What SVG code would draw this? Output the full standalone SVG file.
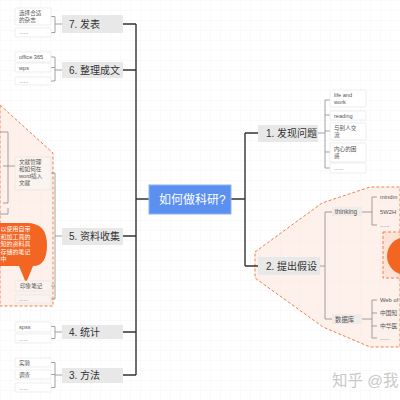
<svg xmlns="http://www.w3.org/2000/svg" width="400" height="400" viewBox="0 0 400 400">
<defs>
<pattern id="grid" width="10" height="10" patternUnits="userSpaceOnUse">
<path d="M10 0H0V10" fill="none" stroke="#ececec" stroke-width="0.6"/>
</pattern>
<style>
text{font-family:"Liberation Sans","Noto Sans CJK SC",sans-serif;}
.l1 rect{fill:#e8e8e8;}
.l1 text{font-size:10px;fill:#333;}
.c rect{fill:#fff;stroke:#e2e2e2;stroke-width:0.6;}
.c text{font-size:5.6px;fill:#555;}
.lb rect{fill:#f1ebe8;}
.lb text{font-size:6.4px;fill:#555;}
.rc text{font-size:5.8px;fill:#555;}
.trunk{stroke:#333;stroke-width:1.4;fill:none;}
.br{stroke:#8a8a8a;stroke-width:0.8;fill:none;}
.region{fill:#fde6dc;fill-opacity:0.6;stroke:#ee8050;stroke-width:1;stroke-dasharray:3 2;}
.bub text{font-size:6px;fill:#fff;}
</style>
</defs>
<rect width="400" height="400" fill="#fff"/>
<rect width="400" height="400" fill="url(#grid)"/>

<g id="regions">
<polygon class="region" points="0,105 53,153 53,306 0,306"/>
<polygon class="region" points="255,252 322,203 370,187 400,187 400,347 370,347 323,327 255,278"/>
<rect class="region" x="383" y="232" width="20" height="46" style="fill:#fcd9c8"/>
<circle cx="406" cy="256" r="19" fill="#f26522"/>
</g>

<g id="connectors">
<path class="trunk" d="M136 24V375M123 24H136M123 70H136M123 236H136M123 332H136M123 375H136M136 199H149"/>
<path class="trunk" d="M231 199H245M245 133V266M245 133H258M245 266H258"/>
<path class="br" d="M51 16.5H55M51 32.5H55M55 16.5V32.5M55 24H62"/>
<path class="br" d="M51 57H55M51 67.5H55M51 81H55M55 57V81M55 70H62"/>
<path class="br" d="M51 173H55M51 286H55M51 299H55M55 173V299M55 236H62"/>
<path class="br" d="M8 132V203M0 132H8M3 166H15M3 203H8M8 208V214M0 214H8"/>
<path class="br" d="M51 326.5H55M51 338.5H55M55 326.5V338.5M55 332H62"/>
<path class="br" d="M51 362.5H55M51 374.5H55M51 387.5H55M55 362.5V387.5M55 375H62"/>
<path class="br" d="M318 133H325M325 100V168M325 100H330M325 115H330M325 131H330M325 152H330M325 168H330"/>
<path class="br" d="M320 266H325M325 212V319M325 212H332M325 319H332"/>
<path class="br" d="M362 212H372M372 197V225M372 197H377M372 225H377"/>
<path class="br" d="M362 319H372M372 300V338M372 300H377M372 313H377M372 326H377M372 338H377"/>
</g>

<g id="center">
<rect x="149" y="185" width="82" height="29" fill="#5b8ff0" stroke="#8fb3f7" stroke-width="1"/>
<text x="159" y="203.5" font-size="12" fill="#fff">如何做科研?</text>
</g>

<g id="n7" class="l1"><rect x="62" y="15" width="61" height="18"/><text x="69" y="28">7. 发表</text></g>
<g id="n6" class="l1"><rect x="62" y="62" width="61" height="16"/><text x="69" y="74">6. 整理成文</text></g>
<g id="n5" class="l1"><rect x="62" y="228" width="61" height="17"/><text x="69" y="240">5. 资料收集</text></g>
<g id="n4" class="l1"><rect x="62" y="325" width="61" height="14"/><text x="69" y="336">4. 统计</text></g>
<g id="n3" class="l1"><rect x="62" y="368" width="61" height="15"/><text x="69" y="379">3. 方法</text></g>
<g id="n1" class="l1"><rect x="258" y="125" width="60" height="17"/><text x="266" y="137">1. 发现问题</text></g>
<g id="n2" class="l1"><rect x="258" y="257" width="62" height="18"/><text x="266" y="270">2. 提出假设</text></g>

<g id="c7a" class="c"><rect x="15" y="8" width="36" height="17" rx="1"/><text x="19" y="15">选择合适</text><text x="19" y="22">的杂志</text></g>
<g id="c7b" class="c"><rect x="15" y="28" width="36" height="9" rx="1"/><text x="19" y="34">......</text></g>
<g id="c6a" class="c"><rect x="15" y="52" width="36" height="10" rx="1"/><text x="19" y="59">office 365</text></g>
<g id="c6b" class="c"><rect x="15" y="63" width="36" height="9" rx="1"/><text x="19" y="69.5">wps</text></g>
<g id="c6c" class="c"><rect x="15" y="77" width="36" height="8" rx="1"/><text x="19" y="83">......</text></g>
<g id="c5a" class="c"><rect x="15" y="157" width="36" height="33" rx="1" style="fill:#fbf3ef"/><text x="19" y="164">文献管理</text><text x="19" y="171">和如何在</text><text x="19" y="178">word插入</text><text x="19" y="185">文献</text></g>
<g id="bubble" class="bub">
<path d="M10 223H27Q47 223 47 245Q47 266 33 266L26 283L19 266H0V223Z" fill="#f26522"/>
<text x="0.5" y="231">以使用自带</text><text x="0.5" y="238.5">和加工真的</text><text x="0.5" y="246">知的资料具</text><text x="0.5" y="253.5">存储的笔记</text><text x="0.5" y="261">中</text>
</g>
<g id="c5b" class="c"><rect x="15" y="281" width="36" height="10" rx="1" style="fill:#fbf3ef"/><text x="20" y="288">印象笔记</text></g>
<g id="c5c" class="c"><rect x="15" y="295" width="36" height="8" rx="1" style="fill:#fbf3ef"/><text x="19" y="301">......</text></g>
<g id="c4a" class="c"><rect x="15" y="322" width="36" height="10" rx="1"/><text x="19" y="329">spss</text></g>
<g id="c4b" class="c"><rect x="15" y="334" width="36" height="9" rx="1"/><text x="19" y="341">......</text></g>
<g id="c3a" class="c"><rect x="15" y="358" width="36" height="9" rx="1"/><text x="19" y="365">实验</text></g>
<g id="c3b" class="c"><rect x="15" y="370" width="36" height="9" rx="1"/><text x="19" y="377">调查</text></g>
<g id="c3c" class="c"><rect x="15" y="383" width="36" height="9" rx="1"/><text x="19" y="390">......</text></g>

<g id="c1a" class="c"><rect x="330" y="90" width="36" height="17" rx="1"/><text x="334" y="97">life and</text><text x="334" y="104">work</text></g>
<g id="c1b" class="c"><rect x="330" y="111" width="36" height="9" rx="1"/><text x="334" y="117.5">reading</text></g>
<g id="c1c" class="c"><rect x="330" y="123" width="36" height="17" rx="1"/><text x="334" y="130">与别人交</text><text x="334" y="137">流</text></g>
<g id="c1d" class="c"><rect x="330" y="143" width="36" height="19" rx="1"/><text x="334" y="151">内心的困</text><text x="334" y="158">惑</text></g>
<g id="c1e" class="c"><rect x="330" y="163" width="36" height="10" rx="1"/><text x="334" y="170">......</text></g>

<g id="thinking" class="lb"><rect x="332" y="207" width="30" height="9"/><text x="335" y="214">thinking</text></g>
<g id="t1" class="rc"><text x="380" y="199">mindm</text></g>
<g id="t2" class="rc"><text x="380" y="214">5W2H</text></g>
<g id="t3" class="rc"><text x="380" y="227">......</text></g>
<g id="db" class="lb"><rect x="332" y="314" width="30" height="10"/><text x="335" y="321.5">数据库</text></g>
<g id="d1" class="rc"><text x="380" y="302">Web of</text></g>
<g id="d2" class="rc"><text x="380" y="315">中国知</text></g>
<g id="d3" class="rc"><text x="380" y="328">中华医</text></g>
<g id="d4" class="rc"><text x="380" y="340">......</text></g>

<text x="332" y="386" font-size="15.5" fill="#c9c9c9">知乎 @我</text>
</svg>
